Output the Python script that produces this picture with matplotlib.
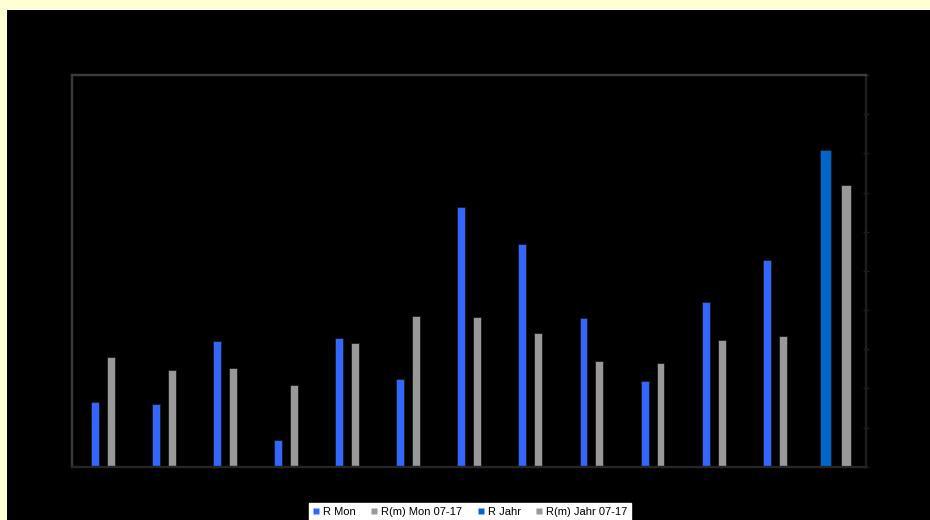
import matplotlib.pyplot as plt
import numpy as np
from matplotlib.lines import Line2D
from matplotlib.patches import Rectangle

# monthly precipitation (mm) and 2007-2017 monthly means
months = ["Jan", "Feb", "Mär", "Apr", "Mai", "Jun",
          "Jul", "Aug", "Sep", "Okt", "Nov", "Dez"]
r_mon = [33.2, 32.0, 64.2, 13.5, 65.6, 44.6, 132.4, 113.6, 75.9, 43.9, 83.9, 105.5]
r_mon_mean = [55.9, 49.4, 50.4, 41.6, 63.3, 76.9, 76.3, 68.1, 53.8, 52.8, 64.8, 66.9]

# annual totals, plotted on the secondary axis
r_jahr = [808.3]
r_jahr_mean = [720.2]

labels = ["R Mon", "R(m) Mon 07-17", "R Jahr", "R(m) Jahr 07-17"]
c_mon, c_mean, c_jahr = "#3366ff", "#999999", "#0066cc"
edge = "#1a1a1a"

W, H = 930, 520
fig = plt.figure(figsize=(W / 100, H / 100), dpi=100)
fig.patch.set_facecolor("#ffffd6")
fig.patches.append(
    Rectangle((7 / W, 0), 1 - 7 / W, 1 - 10 / H, transform=fig.transFigure,
              facecolor="black", edgecolor="none", zorder=-10)
)

x0, x1, ytop, ybot = 72, 866, 75, 466.7
ax = fig.add_axes([x0 / W, 1 - ybot / H, (x1 - x0) / W, (ybot - ytop) / H])
ax.set_facecolor("black")
ax2 = ax.twinx()

x = np.arange(len(months))
ax.bar(x - 0.125, r_mon, width=0.13, color=c_mon, edgecolor=edge, linewidth=0.6)
ax.bar(x + 0.135, r_mon_mean, width=0.13, color=c_mean, edgecolor=edge, linewidth=0.6)

xj = np.array([len(months)])
ax2.bar(xj - 0.155, r_jahr, width=0.18, color=c_jahr, edgecolor=edge, linewidth=0.6)
ax2.bar(xj + 0.175, r_jahr_mean, width=0.165, color=c_mean, edgecolor=edge, linewidth=0.6)

ax.set_xlim(-0.5, len(months) + 0.5)
ax.set_ylim(0, 200)
ax2.set_ylim(0, 1000)
ax.set_yticks([])
ax2.set_yticks(np.arange(0, 1001, 100))
ax.set_xticks([])

# left/top frame in mid grey, right/bottom darker
for a in (ax, ax2):
    a.spines["left"].set_color("#383838")
    a.spines["top"].set_color("#3c3c3c")
    a.spines["right"].set_color("#1e1e1e")
    a.spines["bottom"].set_color("#262626")
    for s in a.spines.values():
        s.set_linewidth(1.6)
ax2.tick_params(axis="y", direction="inout", length=4, width=1,
                color="#1e1e1e", labelright=False)

handles = [
    Line2D([], [], marker="s", linestyle="none", markersize=4.5,
           markerfacecolor=c, markeredgecolor="none")
    for c in (c_mon, c_mean, c_jahr, c_mean)
]
leg = fig.legend(
    handles, labels, ncol=4, loc="upper center",
    bbox_to_anchor=(470 / W, 1 - 503 / H),
    prop={"family": "Liberation Sans", "size": 8},
    frameon=True, fancybox=False, framealpha=1,
    handlelength=0.6, handletextpad=0.3,
    columnspacing=1.4, borderpad=0.35, borderaxespad=0,
)
leg.get_frame().set_facecolor("white")
leg.get_frame().set_edgecolor("white")

fig.savefig("out.png", dpi=100, facecolor=fig.get_facecolor())
